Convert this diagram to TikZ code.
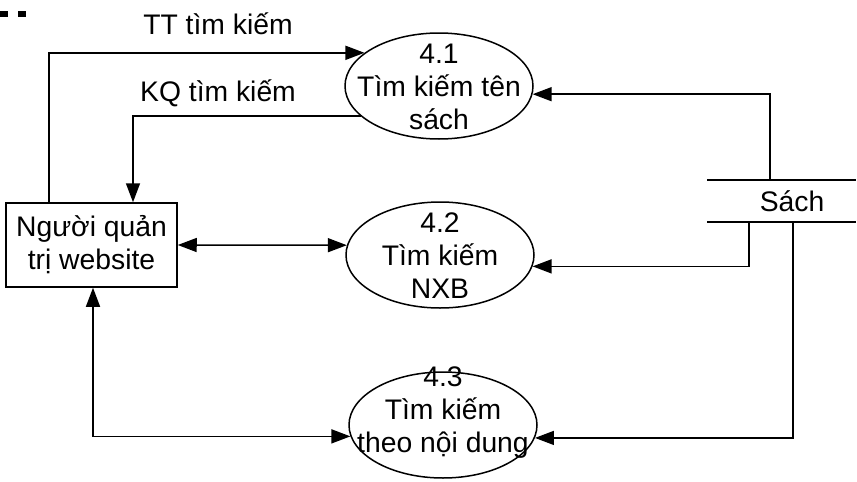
\documentclass[tikz,border=0pt]{standalone}
\usepackage{fontspec}
\setmainfont{Liberation Sans}
\usetikzlibrary{shapes.geometric,arrows.meta}
\begin{document}
\begin{tikzpicture}[x=1pt,y=-1pt,
  every node/.style={font=\fontsize{28.3}{33}\selectfont},
  proc/.style={draw,ellipse,line width=1.5pt,minimum width=188pt,minimum height=106pt,inner sep=0pt},
  ptext/.style={align=center,inner sep=0pt},
  entity/.style={draw,rectangle,line width=1.5pt,minimum width=171pt,minimum height=84pt,align=center,inner sep=0pt},
  flow/.style={line width=1.5pt,-{Triangle[length=19pt,width=14pt]}},
  bflow/.style={line width=1.5pt,{Triangle[length=19pt,width=14pt]}-{Triangle[length=19pt,width=14pt]}},
  storeline/.style={line width=1.5pt}]
\useasboundingbox (0,0) rectangle (857,482);
% artefact squares top-left
\fill (0,11) rectangle (8,17);
\fill (18,11) rectangle (26,17);
% entity
\node[entity] (r) at (91.5,245) {Người quản\\trị website};
% processes
\node[proc] (p1) at (439,86) {};
\node[proc] (p2) at (440,255) {};
\node[proc] (p3) at (443,425) {};
\node[ptext] (t1) at (439,87) {4.1\\Tìm kiếm tên\\sách};
\node[ptext] (t2) at (440,256) {4.2\\Tìm kiếm\\NXB};
\node[ptext] (t3) at (443,413) {4.3\\Tìm kiếm\\theo nội dung};
% data store
\node[inner sep=0pt,minimum height=42pt] (s) at (792,201) {Sách};
\coordinate (sTL) at (707,180);
\coordinate (sTR) at (856,180);
\coordinate (sBL) at (707,222);
\coordinate (sBR) at (856,222);
\draw[storeline] (sTL) -- (sTR);
\draw[storeline] (sBL) -- (sBR);
% flows
\coordinate (ttx) at (49,0);
\coordinate (kqx) at (133,0);
\coordinate (s1x) at (770,0);
\coordinate (s2x) at (749,0);
\coordinate (s3x) at (793,0);
\coordinate (r3x) at (93,0);
\draw[flow] (r.north -| ttx) |- (p1.156);
\draw[flow] (p1.201) -| (r.north -| kqx);
\draw[flow] (sTL -| s1x) |- (p1.355);
\draw[flow] (sBL -| s2x) |- (p2.353);
\draw[flow] (sBL -| s3x) |- (p3.352.5);
\draw[bflow] (r.east) -- (p2.174);
\draw[bflow] (r.south -| r3x) |- (p3.187.5);
% labels
\node (l1) at (218,24) {TT tìm kiếm};
\node (l2) at (218,93) {KQ tìm kiếm};
\end{tikzpicture}
\end{document}
